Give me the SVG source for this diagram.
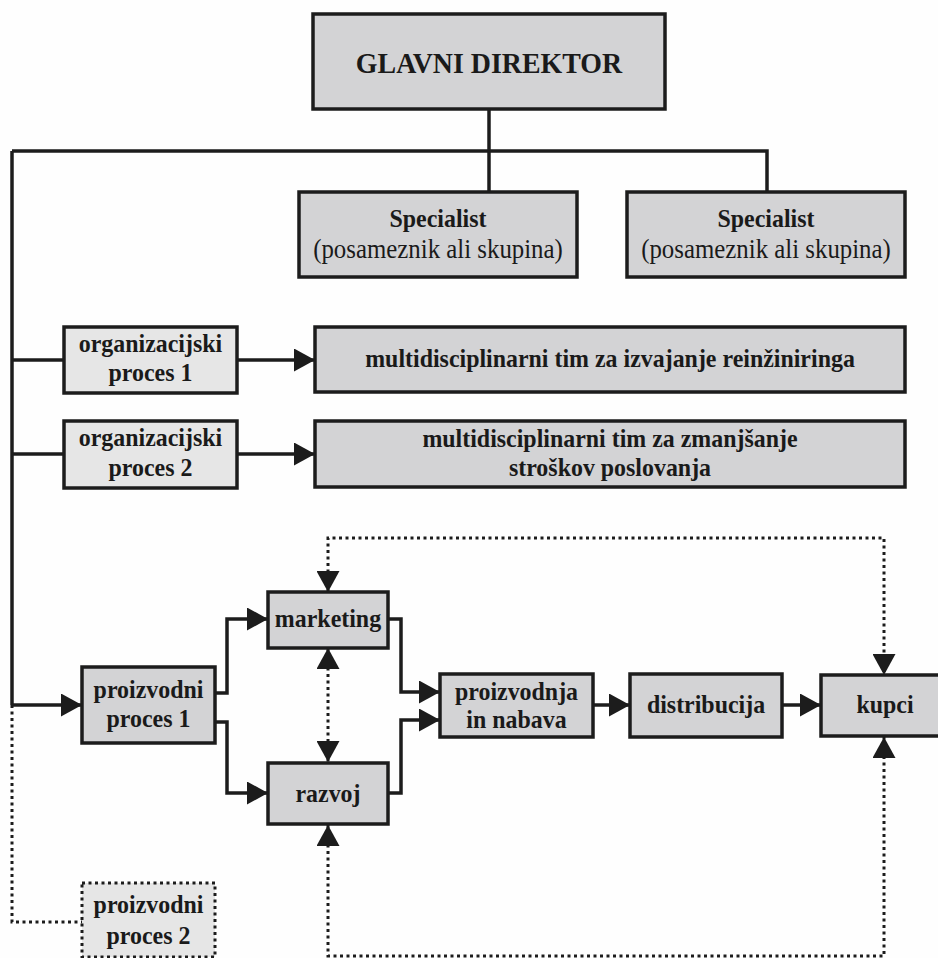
<svg xmlns="http://www.w3.org/2000/svg" width="938" height="958" viewBox="0 0 938 958">
  <style>
    .box { fill: #d3d3d5; stroke: #1c1c1c; stroke-width: 3.5; }
    .light { fill: #e6e6e6; stroke: #1c1c1c; stroke-width: 3.5; }
    .dotbox { fill: #e6e6e6; stroke: #1c1c1c; stroke-width: 3; stroke-dasharray: 3 3.5; }
    .t { font-family: "Liberation Serif", "Times New Roman", serif; font-size: 26px; fill: #1a1a1a; text-anchor: middle; }
    .b { font-weight: bold; }
    .r { font-size: 27px; }
    .line { fill: none; stroke: #1c1c1c; stroke-width: 3.5; }
    .dot { fill: none; stroke: #1c1c1c; stroke-width: 3; stroke-dasharray: 3 3.5; }
  </style>
  <defs>
    <marker id="arrow" markerUnits="userSpaceOnUse" markerWidth="21" markerHeight="23" refX="21" refY="11.5" orient="auto-start-reverse">
      <path d="M0,0 L21,11.5 L0,23 Z" fill="#1c1c1c"/>
    </marker>
  </defs>
  <rect width="938" height="958" fill="#fefefe"/>

  <!-- connectors -->
  <g id="connectors">
    <!-- hierarchy bus -->
    <path class="line" d="M489,109 L489,192"/>
    <path class="line" d="M12,151 L767,151 L767,192"/>
    <path class="line" d="M12,151 L12,705"/>
    <path class="line" d="M12,360 L64,360"/>
    <path class="line" d="M12,454 L64,454"/>
    <path class="line" d="M237,360 L315,360" marker-end="url(#arrow)"/>
    <path class="line" d="M237,454 L315,454" marker-end="url(#arrow)"/>
    <path class="line" d="M12,705 L82,705" marker-end="url(#arrow)"/>
    <!-- production flow -->
    <path class="line" d="M215,693 L227,693 L227,619 L268,619" marker-end="url(#arrow)"/>
    <path class="line" d="M215,722 L227,722 L227,793 L268,793" marker-end="url(#arrow)"/>
    <path class="line" d="M388,619 L401,619 L401,692 L440,692" marker-end="url(#arrow)"/>
    <path class="line" d="M388,793 L401,793 L401,720 L440,720" marker-end="url(#arrow)"/>
    <path class="line" d="M593,705 L630,705" marker-end="url(#arrow)"/>
    <path class="line" d="M782,705 L821,705" marker-end="url(#arrow)"/>
    <!-- feedback links -->
    <path class="dot" d="M328,648 L328,762" marker-start="url(#arrow)" marker-end="url(#arrow)"/>
    <path class="dot" d="M328,592 L328,538 L884,538 L884,675" marker-start="url(#arrow)" marker-end="url(#arrow)"/>
    <path class="dot" d="M328,825 L328,956 L884,956 L884,737" marker-start="url(#arrow)" marker-end="url(#arrow)"/>
    <path class="dot" d="M12,705 L12,922 L82,922"/>
  </g>

  <!-- text is set slightly condensed: translate to the centre, then scale x -->
  <g id="glavni-direktor">
    <rect class="box" x="313" y="14" width="352" height="95"/>
    <text class="t b" style="font-size:30px" transform="translate(489,73) scale(0.93,1)">GLAVNI DIREKTOR</text>
  </g>

  <g id="specialist-1">
    <rect class="box" x="299" y="192" width="278" height="85"/>
    <text class="t b" transform="translate(438,227) scale(0.92,1)">Specialist</text>
    <text class="t r" transform="translate(438,258) scale(0.92,1)">(posameznik ali skupina)</text>
  </g>

  <g id="specialist-2">
    <rect class="box" x="627" y="192" width="278" height="85"/>
    <text class="t b" transform="translate(766,227) scale(0.92,1)">Specialist</text>
    <text class="t r" transform="translate(766,258) scale(0.92,1)">(posameznik ali skupina)</text>
  </g>

  <g id="org-proces-1">
    <rect class="light" x="64" y="327" width="173" height="66"/>
    <text class="t b" transform="translate(150.5,352) scale(0.92,1)">organizacijski</text>
    <text class="t b" transform="translate(150.5,381) scale(0.92,1)">proces 1</text>
  </g>

  <g id="tim-reinzeniring">
    <rect class="box" x="315" y="327" width="590" height="65"/>
    <text class="t b" transform="translate(610,367) scale(0.92,1)">multidisciplinarni tim za izvajanje reinžiniringa</text>
  </g>

  <g id="org-proces-2">
    <rect class="light" x="64" y="421" width="173" height="67"/>
    <text class="t b" transform="translate(150.5,446) scale(0.92,1)">organizacijski</text>
    <text class="t b" transform="translate(150.5,476) scale(0.92,1)">proces 2</text>
  </g>

  <g id="tim-stroski">
    <rect class="box" x="315" y="421" width="590" height="66"/>
    <text class="t b" transform="translate(610,447) scale(0.92,1)">multidisciplinarni tim za zmanjšanje</text>
    <text class="t b" transform="translate(610,476) scale(0.92,1)">stroškov poslovanja</text>
  </g>

  <g id="proizvodni-proces-1">
    <rect class="box" x="82" y="667" width="133" height="76"/>
    <text class="t b" transform="translate(148.5,698) scale(0.92,1)">proizvodni</text>
    <text class="t b" transform="translate(148.5,727) scale(0.92,1)">proces 1</text>
  </g>

  <g id="marketing">
    <rect class="box" x="268" y="592" width="120" height="56"/>
    <text class="t b" transform="translate(328,627) scale(0.92,1)">marketing</text>
  </g>

  <g id="razvoj">
    <rect class="box" x="268" y="763" width="120" height="61"/>
    <text class="t b" transform="translate(328,802) scale(0.92,1)">razvoj</text>
  </g>

  <g id="proizvodnja">
    <rect class="box" x="440" y="674" width="153" height="63"/>
    <text class="t b" transform="translate(516.5,700) scale(0.92,1)">proizvodnja</text>
    <text class="t b" transform="translate(516.5,728) scale(0.92,1)">in nabava</text>
  </g>

  <g id="distribucija">
    <rect class="box" x="630" y="674" width="152" height="63"/>
    <text class="t b" transform="translate(706,713) scale(0.92,1)">distribucija</text>
  </g>

  <g id="kupci">
    <rect class="box" x="821" y="675" width="128" height="61"/>
    <text class="t b" transform="translate(885,713) scale(0.92,1)">kupci</text>
  </g>

  <g id="proizvodni-proces-2">
    <rect class="dotbox" x="82" y="883" width="133" height="74"/>
    <text class="t b" transform="translate(148.5,913) scale(0.92,1)">proizvodni</text>
    <text class="t b" transform="translate(148.5,944) scale(0.92,1)">proces 2</text>
  </g>
</svg>
